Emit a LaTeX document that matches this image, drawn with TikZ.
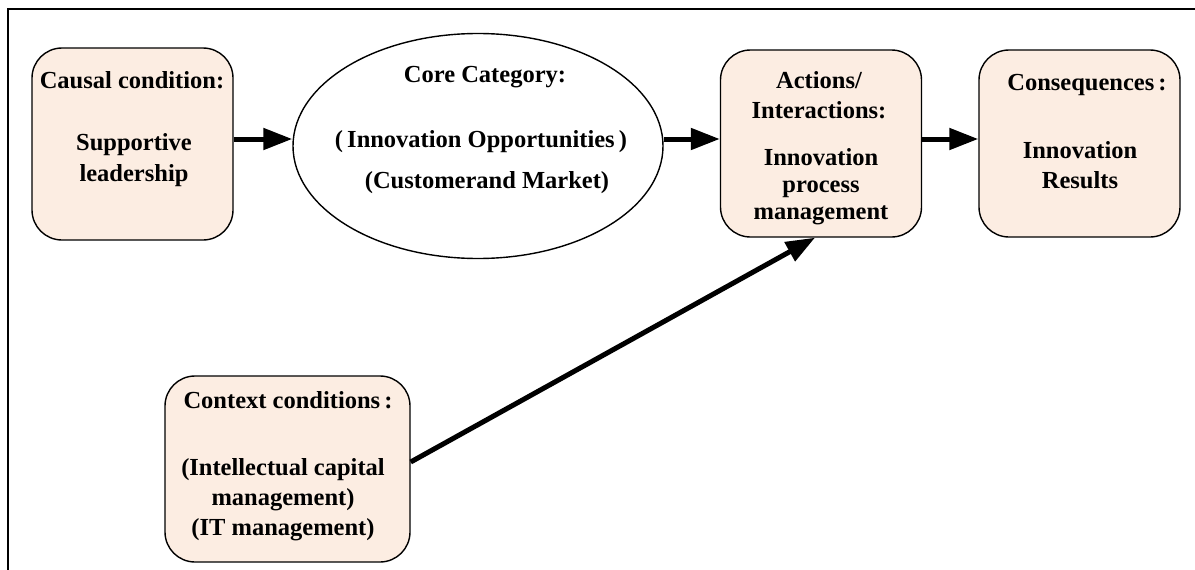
\documentclass[tikz,border=0pt]{standalone}
\usepackage{fontspec}
\setmainfont{Liberation Serif}
\usetikzlibrary{shapes.geometric,arrows.meta}
\definecolor{peach}{RGB}{252,237,226}
\begin{document}
\begin{tikzpicture}[x=1pt,y=-1pt,
  box/.style={draw,line width=1.4pt,fill=peach,rounded corners=30pt,inner sep=0pt,
    minimum width=#1},
  box/.default=201pt,
  lbl/.style={font=\fontsize{24.5}{30}\selectfont\bfseries,align=center,inner sep=0pt},
  arr/.style={line width=5pt,-{Triangle[length=29pt,width=21pt]}}]
\useasboundingbox (0,0) rectangle (1195,570);

% open frame: top and left rules only
\coordinate (fl) at (8,570);
\coordinate (fc) at (8,9);
\coordinate (fr) at (1195,9);
\draw[line width=1.2pt] (fl) -- (fc) -- (fr);

% boxes
\node[box, minimum height=192pt] (causal) at (132.5,144) {};
\node[draw,line width=1.4pt,ellipse,inner sep=0pt,minimum width=370pt,minimum height=225pt] (core) at (478,146) {};
\node[box, minimum height=187pt] (act) at (821,143.5) {};
\node[box, minimum height=187pt] (cons) at (1079.5,143.5) {};
\node[box=245pt, minimum height=186pt] (ctx) at (287.5,469) {};

% texts
\node[lbl] (causalT) at (132,80) {Causal condition:};
\node[lbl, font=\fontsize{24.5}{31}\selectfont\bfseries] (causalB) at (134,160) {Supportive\\leadership};

\node[lbl] (coreT) at (485,77) {Core Category:};
\node[lbl] (coreA) at (481,142) {(\,Innovation Opportunities\,)};
\node[lbl] (coreB) at (487,183) {(Customerand Market)};

\node[lbl] (actT) at (819,95) {Actions/\\Interactions:};
\node[lbl, font=\fontsize{24.5}{27}\selectfont\bfseries] (actB) at (821,187) {Innovation\\process\\management};

\node[lbl] (consT) at (1087,85) {Consequences\,:};
\node[lbl] (consB) at (1080,165) {Innovation\\Results};

\node[lbl] (ctxT) at (288,400) {Context conditions\,:};
\node[lbl] (ctxB) at (283,500) {(Intellectual capital\\management)\\(IT management)};

% connectors
\coordinate (a1s) at ([yshift=5pt]causal.east);
\coordinate (a1e) at (a1s -| core.west);
\draw[arr] (a1s) -- (a1e);
\coordinate (a2s) at ([yshift=7pt]core.east);
\coordinate (a2e) at (a2s -| act.west);
\draw[arr] (a2s) -- (a2e);
\coordinate (a3s) at ([yshift=4.5pt]act.east);
\coordinate (a3e) at (a3s -| cons.west);
\draw[arr] (a3s) -- (a3e);
\coordinate (a4s) at ([yshift=7pt]ctx.east);
\coordinate (a4e) at ([xshift=-6pt]act.south);
\draw[arr] (a4s) -- (a4e);
\end{tikzpicture}
\end{document}
